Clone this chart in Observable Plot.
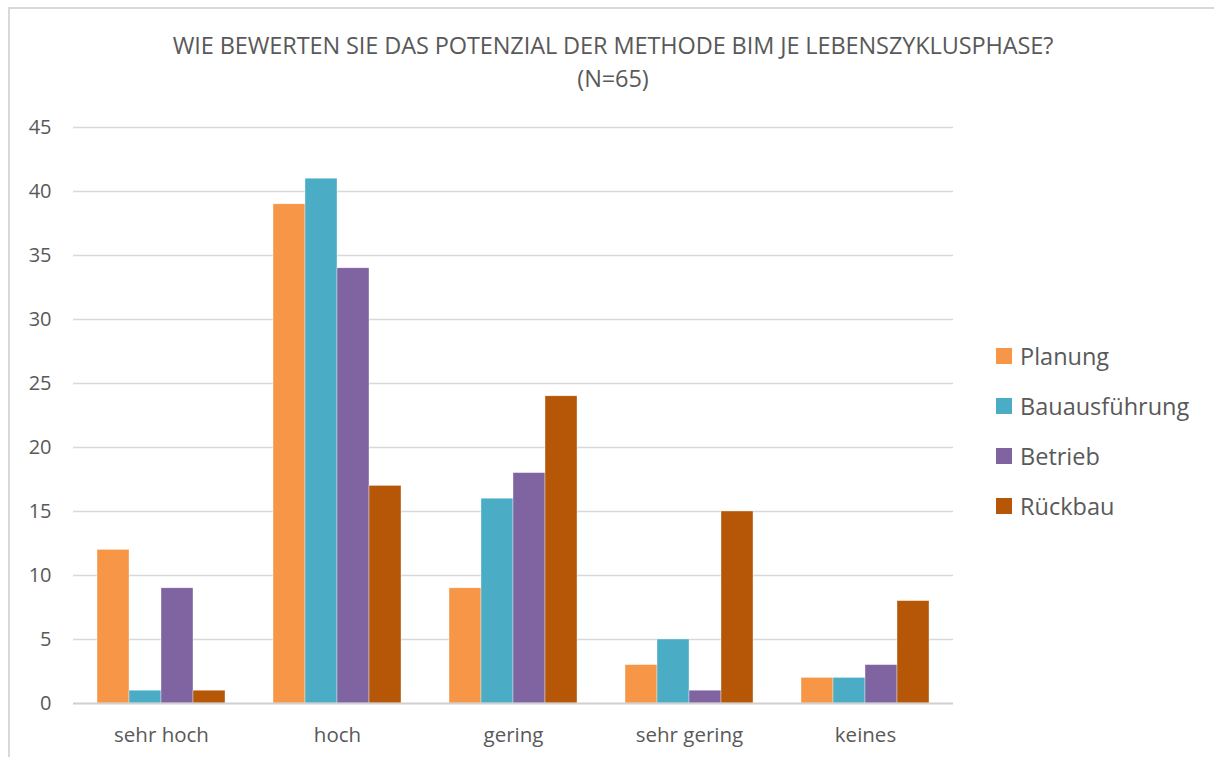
<!DOCTYPE html>
<html>
<head>
<meta charset="utf-8">
<script src="https://cdn.jsdelivr.net/npm/d3@7"></script>
<script src="https://cdn.jsdelivr.net/npm/@observablehq/plot@0.6"></script>
<style>
  html, body { margin: 0; padding: 0; background: #fff; }
  body { width: 1214px; height: 757px; position: relative; overflow: hidden; font-family: "Open Sans", "Noto Sans", sans-serif; }
  #frame { position: absolute; left: 8px; top: 7px; width: 1220px; height: 800px; border: 2px solid #d9d9d9; box-sizing: border-box; }
  #title { position: absolute; left: 9px; width: 1208px; top: 29px; text-align: center; color: #595959; font-size: 23.5px; line-height: 33px; letter-spacing: -0.1px; }
  #chart { position: absolute; left: 0; top: 0; }
  #legend { position: absolute; left: 996px; top: 331px; color: #595959; font-size: 23.5px; }
  #legend .row { display: flex; align-items: center; height: 50px; }
  #legend .sw { width: 16px; height: 16px; margin-right: 8px; }
</style>
</head>
<body>
<div id="frame"></div>
<div id="title">WIE BEWERTEN SIE DAS POTENZIAL DER METHODE BIM JE LEBENSZYKLUSPHASE?<br>(N=65)</div>
<div id="chart"></div>
<div id="legend"></div>
<script>
const categories = ["sehr hoch", "hoch", "gering", "sehr gering", "keines"];
const seriesNames = ["Planung", "Bauausführung", "Betrieb", "Rückbau"];
const seriesColors = ["#F79646", "#4BACC6", "#8064A2", "#B65708"];
const planung = [12, 39, 9, 3, 2];
const bauausfuehrung = [1, 41, 16, 5, 2];
const betrieb = [9, 34, 18, 1, 3];
const rueckbau = [1, 17, 24, 15, 8];
const yTicks = [0, 5, 10, 15, 20, 25, 30, 35, 40, 45];

const seriesValues = [planung, bauausfuehrung, betrieb, rueckbau];
const data = [];
categories.forEach((c, i) => {
  seriesNames.forEach((s, j) => data.push({category: c, series: s, value: seriesValues[j][i]}));
});

const chart = Plot.plot({
  width: 960,
  height: 757,
  marginTop: 127,
  marginBottom: 54,
  marginLeft: 73,
  marginRight: 7,
  style: {fontFamily: "'Open Sans', 'Noto Sans', sans-serif", color: "#595959", background: "transparent", overflow: "visible"},
  fx: {domain: categories, padding: 0, label: null, axis: null},
  x: {domain: seriesNames, paddingInner: 0, paddingOuter: 0.75, axis: null},
  y: {domain: [0, 45], ticks: yTicks, label: null, axis: null},
  color: {domain: seriesNames, range: seriesColors},
  marks: [
    Plot.ruleY(yTicks.filter(d => d > 0), {stroke: "#d9d9d9", strokeWidth: 1.5, strokeOpacity: 1}),
    Plot.barY(data, {fx: "category", x: "series", y: "value", fill: "series", stroke: "white", strokeWidth: 0.6, strokeOpacity: 0.6}),
    Plot.ruleY([0], {stroke: "#d0d0d0", strokeWidth: 1.8}),
    Plot.axisY({ticks: yTicks, tickSize: 0, tickPadding: 22, fontSize: 20, fill: "#595959", label: null}),
    Plot.axisFx({anchor: "bottom", tickSize: 0, tickPadding: 24, fontSize: 20.5, fill: "#595959", label: null})
  ]
});
document.getElementById("chart").appendChild(chart);

const legend = document.getElementById("legend");
seriesNames.forEach((s, j) => {
  const row = document.createElement("div");
  row.className = "row";
  const sw = document.createElement("div");
  sw.className = "sw";
  sw.style.background = seriesColors[j];
  const t = document.createElement("span");
  t.textContent = s;
  row.appendChild(sw);
  row.appendChild(t);
  legend.appendChild(row);
});
</script>
</body>
</html>
